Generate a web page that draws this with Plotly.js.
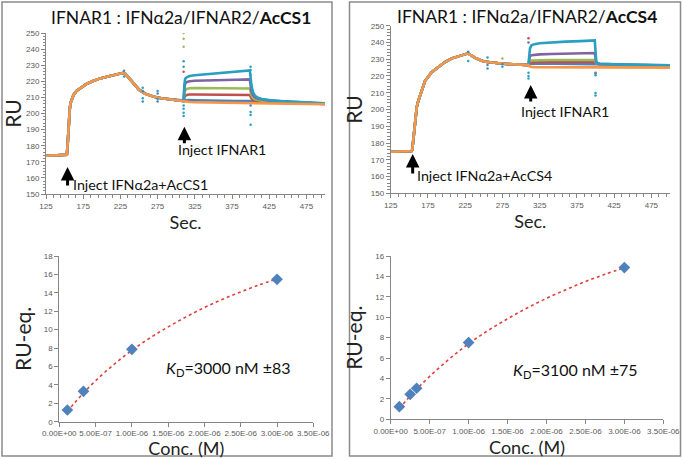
<!DOCTYPE html>
<html><head><meta charset="utf-8">
<script src="https://cdn.plot.ly/plotly-3.0.1.min.js"></script>
<style>html,body{margin:0;padding:0;background:#fff}#c{width:683px;height:459px}</style>
</head><body><div id="c"></div>
<script>
// ---------------- DATA ----------------
// Sensorgram time points (s), shared pre-injection phase
const tPre = [125,140,152,153,154,155,156,157,158,160,162,166,171,180,189,198,207,218,229,232,240,250,258,270,280,295,310];
// AcCS1 panel: shared response before IFNAR1 injection (RU)
const acs1Pre = [173.8,174.0,174.2,174.4,180,190,198,203,206.5,209.5,211.5,214,215.8,218.5,220.3,221.8,222.8,224,225.3,224.5,220,214.8,212.3,210.4,209.5,208.6,207.8];
// AcCS4 panel: shared response before IFNAR1 injection (RU)
const acs4Pre = [174.8,174.8,175.0,175.2,176,181,186,191,196,201.5,205,211,217,222.3,225.5,228.3,230.5,232.2,233.5,232.6,230.4,228.6,228.1,227.6,227.2,226.8,226.5];
// IFNAR1 injection + dissociation time points (s)
const tInj = [311,312,314,318,325,340,360,380,399,401,403,406,410,415,425,440,460,480,500];
// AcCS1 series (RU)
const acs1_c6 = [218,221.5,222.5,223.3,223.8,224.5,225.3,226,226.8,218,213.5,211,209.8,209,208.3,207.8,207.3,206.8,206.3];
const acs1_c5 = [216,218.5,219.5,220,220.3,220.6,220.8,221,221.2,214,211.5,210,209.2,208.7,208,207.6,207.1,206.7,206.2];
const acs1_c4 = [212.5,214.5,215.3,215.7,215.8,215.8,215.7,215.6,215.5,211.5,209.8,208.8,208.3,208,207.6,207.3,206.9,206.5,206.1];
const acs1_c3 = [210,211,211.5,211.8,211.8,211.8,211.7,211.6,211.5,209.5,208.5,208,207.7,207.5,207.2,207,206.7,206.4,206];
const acs1_c2 = [208,208.2,208.3,208.3,208.2,208,207.9,207.8,207.7,207.5,207.3,207.2,207.1,207,206.9,206.7,206.5,206.3,206];
const acs1_c1 = [207.5,207.3,207.2,207.1,207,206.9,206.8,206.7,206.6,206.5,206.5,206.4,206.4,206.3,206.2,206.1,206,205.8,205.7];
// AcCS4 series (RU)
const acs4_c6 = [232,236.5,238.3,239,239.5,240,240.5,240.8,241.2,228.5,227.5,227.3,227.2,227.1,227,226.8,226.6,226.4,226.3];
const acs4_c5 = [230,231.8,232.4,232.7,232.9,233.1,233.3,233.5,233.7,228,227.3,227.2,227.1,227,226.9,226.7,226.5,226.4,226.3];
const acs4_c4 = [228.5,229,229.2,229.3,229.4,229.5,229.5,229.5,229.5,227.5,227.2,227.1,227,227,226.9,226.7,226.5,226.4,226.2];
const acs4_c3 = [227.5,228,228.2,228.3,228.3,228.3,228.3,228.3,228.3,227.3,227.1,227,227,226.9,226.8,226.6,226.5,226.3,226.2];
const acs4_c2 = [227,227.3,227.4,227.5,227.5,227.5,227.5,227.4,227.4,227.1,227,227,226.9,226.9,226.8,226.6,226.4,226.3,226.1];
const acs4_c1 = [225.8,225.5,225.4,225.3,225.3,225.2,225.2,225.2,225.2,225.2,225.2,225.2,225.1,225.1,225.1,225.1,225,225,225];
// Injection artefact spikes: time, RU, series index (0 buffer .. 5 highest)
const spk1T = [230,230,255,255,255,255,275,275,275,275,310,310,310,310,310,310,310,310,310,310,400,400,400,400,400,400,400];
const spk1V = [223,226.5,207.5,209.5,214,216,207.5,209,212.5,214,250,246.5,241.5,232.5,229,226,205,203,200.5,198.5,229,227,224,205,201,199,193];
const spk1S = [5,1,1,5,1,5,1,5,1,5,3,3,3,5,5,2,5,5,5,5,5,5,5,1,5,5,5];
const spk4T = [229,229,255,255,255,275,275,275,310,310,310,310,310,400,400,400,400,400];
const spk4V = [229,234.5,224.5,226.5,231,225.5,227,230.5,242.5,240,222,220,218.5,222,220.5,221.5,209.8,208.3];
const spk4S = [5,1,5,1,5,5,1,3,2,4,5,5,5,2,5,5,5,5];
// Equilibrium response vs concentration (measured points)
const conc1 = [1.11e-7,3.33e-7,1.0e-6,3.0e-6];
const req1  = [1.27,3.30,7.86,15.47];
const conc4 = [1.11e-7,2.5e-7,3.33e-7,1.0e-6,3.0e-6];
const req4  = [1.24,2.45,3.04,7.52,14.87];
// Fitted binding curves
const fitConc = [1.11e-7,2e-7,3.33e-7,5e-7,7.5e-7,1e-6,1.25e-6,1.5e-6,1.75e-6,2e-6,2.25e-6,2.5e-6,2.75e-6,3e-6];
const fit1 = [1.1,1.95,3.1,4.45,6.2,7.75,9.1,10.3,11.4,12.4,13.3,14.1,14.85,15.5];
const fit4 = [1.05,1.85,2.95,4.2,5.9,7.4,8.7,9.85,10.9,11.85,12.7,13.5,14.2,14.85];
const concTicks = [0,5e-7,1e-6,1.5e-6,2e-6,2.5e-6,3e-6,3.5e-6];
const concTickText = ["0.00E+00","5.00E-07","1.00E-06","1.50E-06","2.00E-06","2.50E-06","3.00E-06","3.50E-06"];
const secTicks = [125,175,225,275,325,375,425,475];

// ---------------- STYLE ----------------
const PAL = ['#F79646','#4F81BD','#C0504D','#9BBB59','#8064A2','#2A9FC2'];
const FONT = 'Lato, "Open Sans", sans-serif';
const TICKF = {family:'"Liberation Sans", Arial, sans-serif', size:8, color:'#595959'};
const W=683, H=459;
const px = v=>v/W, py = v=>1-v/H;

const traces=[];
function sensor(xa,ya,pre,series){
  const order=[1,2,3,4,5,0];
  order.forEach(i=>{
    traces.push({x:tPre.concat(tInj), y:pre.concat(series[i]), xaxis:xa, yaxis:ya,
      mode:'lines', line:{color:PAL[i], width:2.6}, hoverinfo:'skip', showlegend:false});
  });
}
sensor('x','y',acs1Pre,[acs1_c1,acs1_c2,acs1_c3,acs1_c4,acs1_c5,acs1_c6]);
sensor('x2','y2',acs4Pre,[acs4_c1,acs4_c2,acs4_c3,acs4_c4,acs4_c5,acs4_c6]);
traces.push({x:spk1T,y:spk1V,xaxis:'x',yaxis:'y',mode:'markers',marker:{size:2.5,color:spk1S.map(s=>PAL[s])},showlegend:false});
traces.push({x:spk4T,y:spk4V,xaxis:'x2',yaxis:'y2',mode:'markers',marker:{size:2.5,color:spk4S.map(s=>PAL[s])},showlegend:false});
const FITLINE = {shape:'spline',color:'#E0403A',width:1.6,dash:'dot'};
traces.push({x:fitConc,y:fit1,xaxis:'x3',yaxis:'y3',mode:'lines',line:FITLINE,showlegend:false});
traces.push({x:conc1,y:req1,xaxis:'x3',yaxis:'y3',mode:'markers',marker:{symbol:'diamond',size:9,color:'#4F81BD'},showlegend:false});
traces.push({x:fitConc,y:fit4,xaxis:'x4',yaxis:'y4',mode:'lines',line:FITLINE,showlegend:false});
traces.push({x:conc4,y:req4,xaxis:'x4',yaxis:'y4',mode:'markers',marker:{symbol:'diamond',size:9,color:'#4F81BD'},showlegend:false});

const axBase = {showgrid:false, zeroline:false, showline:true, linecolor:'#868686', linewidth:1,
  ticks:'outside', ticklen:4, tickcolor:'#868686', tickfont:TICKF, fixedrange:true};
const secX = (d,anchor)=>Object.assign({},axBase,{domain:d, anchor:anchor, range:[125,500], tickvals:secTicks,
  minor:{ticks:'outside',ticklen:2.5,dtick:10,tick0:125,tickcolor:'#868686'},
  title:{text:'Sec.', font:{family:FONT,size:18,color:'#222'}, standoff:0}});
const ruY = (d,anchor)=>Object.assign({},axBase,{domain:d, anchor:anchor, range:[150,250], dtick:10,
  minor:{ticks:'outside',ticklen:2.5,dtick:2,tickcolor:'#868686'},
  title:{text:'RU', font:{family:FONT,size:21,color:'#222'}, standoff:2}});
const concX = (d,anchor)=>Object.assign({},axBase,{domain:d, anchor:anchor, range:[0,3.5e-6], tickvals:concTicks, ticktext:concTickText,
  title:{text:'Conc. (M)', font:{family:FONT,size:18,color:'#222'}, standoff:0}});
const reqY = (d,anchor,mx)=>Object.assign({},axBase,{domain:d, anchor:anchor, range:[0,mx], dtick:2,
  title:{text:'RU-eq.', font:{family:FONT,size:21,color:'#222'}, standoff:6}});

const ann = [];
function txt(x,y,t,size,xa){ann.push({xref:'paper',yref:'paper',x:px(x),y:py(y),text:t,showarrow:false,
  xanchor:xa||'center',yanchor:'middle',font:{family:FONT,size:size,color:'#111'}});}
txt(181,18,'IFNAR1 : IFNα2a/IFNAR2/<b>AcCS1</b>',17.5);
txt(527,17,'IFNAR1 : IFNα2a/IFNAR2/<b>AcCS4</b>',17.5);
txt(71,184,'Inject IFNα2a+AcCS1',14.3,'left');
txt(222,150,'Inject IFNAR1',14.3);
txt(415,175,'Inject IFNα2a+AcCS4',14.3,'left');
txt(565,112,'Inject IFNAR1',14.3);
txt(228,368,'<i>K</i><sub>D</sub>=3000 nM ±83',16);
txt(575,370,'<i>K</i><sub>D</sub>=3100 nM ±75',16);
function arrow(xa,ya,x,y,len){ann.push({xref:xa,yref:ya,x:x,y:y,ax:0,ay:len,text:'',showarrow:true,
  arrowhead:2,arrowsize:0.9,arrowwidth:3,arrowcolor:'#000'});}
arrow('x','y',154,166.8,20);
arrow('x','y',311,191.8,18);
arrow('x2','y2',154.5,173.4,21);
arrow('x2','y2',313,214.6,18);

const layout = {
  width:W, height:H, margin:{l:0,r:0,t:0,b:0}, paper_bgcolor:'#fff', plot_bgcolor:'rgba(0,0,0,0)',
  showlegend:false,
  xaxis: secX([px(46),px(325)],'y'),
  yaxis: ruY([py(194),py(33)],'x'),
  xaxis2: secX([px(390.7),px(670)],'y2'),
  yaxis2: ruY([py(193.3),py(25.7)],'x2'),
  xaxis3: concX([px(59.3),px(313.3)],'y3'),
  yaxis3: reqY([py(421.7),py(256)],'x3',18),
  xaxis4: concX([px(390.7),px(663.3)],'y4'),
  yaxis4: reqY([py(419.3),py(256)],'x4',16),
  annotations: ann,
  shapes:[
    {type:'rect',xref:'paper',yref:'paper',x0:px(2),x1:px(332),y0:py(456),y1:py(2),line:{color:'#8a8a8a',width:1.5}},
    {type:'rect',xref:'paper',yref:'paper',x0:px(349.5),x1:px(680.5),y0:py(456),y1:py(2),line:{color:'#8a8a8a',width:1.5}}
  ]
};
Plotly.newPlot('c', traces, layout, {displayModeBar:false, staticPlot:true});
</script></body></html>
